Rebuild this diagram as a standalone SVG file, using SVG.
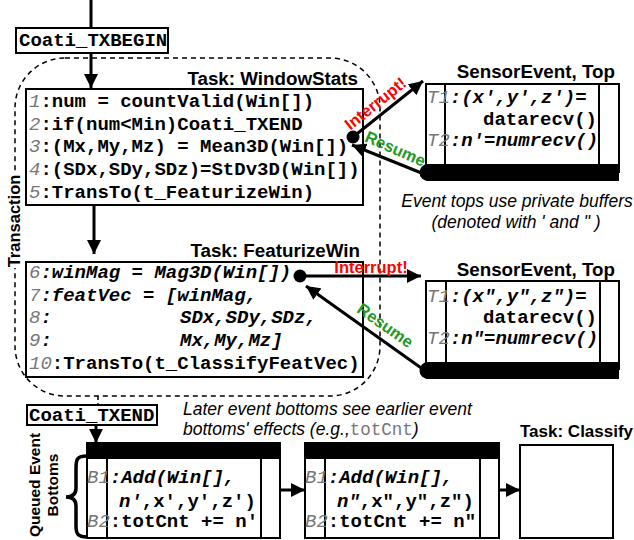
<svg xmlns="http://www.w3.org/2000/svg" width="634" height="540" viewBox="0 0 634 540">
<style>
.box{fill:#fff;stroke:#000;stroke-width:2}
.ln{fill:none;stroke:#000;stroke-width:2}
.code{font-family:"Liberation Mono",monospace;font-size:19px;font-weight:bold;fill:#000}
.it{font-style:italic}
.num{font-weight:normal;font-style:italic;fill:#777}
.title{font-family:"Liberation Sans",Arial,sans-serif;font-size:18.8px;font-weight:bold;fill:#000}
.cap{font-family:"Liberation Sans",Arial,sans-serif;font-size:17.5px;font-style:italic;fill:#000}
.mono{font-family:"Liberation Mono",monospace;font-style:normal;fill:#777}
.arr{fill:none;stroke:#000;stroke-width:3}
.lbl{font-family:"Liberation Sans",Arial,sans-serif;font-size:16.5px;font-weight:bold}
.red{fill:#ff0000}
.grn{fill:#1f9a1f}
</style>
<defs>
<marker id="ah" markerUnits="userSpaceOnUse" markerWidth="16" markerHeight="14" refX="14" refY="7" orient="auto">
<path d="M0,0 L14,7 L0,14 Z" fill="#000"/>
</marker>
</defs>

<!-- transaction region -->
<g id="transaction">
<rect x="15" y="58" width="365" height="338" rx="50" ry="50" fill="none" stroke="#000" stroke-width="1.5" stroke-dasharray="5,4"/>
<rect x="5" y="174" width="19" height="94" fill="#fff"/>
<text class="title" style="font-size:16.5px" text-anchor="middle" transform="translate(20,221) rotate(-90)">Transaction</text>
</g>

<g id="txbegin">
<rect class="box" x="16" y="28" width="152" height="25"/>
<text class="code" x="19" y="46">Coati_TXBEGIN</text>
</g>

<g id="windowstats">
<text class="title" x="358" y="85" text-anchor="end">Task: WindowStats</text>
<rect class="box" x="26" y="89" width="337" height="116"/>
<text class="code" x="29" y="107"><tspan class="num">1</tspan>:num = countValid(Win[])</text>
<text class="code" x="29" y="130"><tspan class="num">2</tspan>:if(num&lt;Min)Coati_TXEND</text>
<text class="code" x="29" y="152"><tspan class="num">3</tspan>:(Mx,My,Mz) = Mean3D(Win[])</text>
<text class="code" x="29" y="175"><tspan class="num">4</tspan>:(SDx,SDy,SDz)=StDv3D(Win[])</text>
<text class="code" x="29" y="198"><tspan class="num">5</tspan>:TransTo(t_FeaturizeWin)</text>
</g>

<g id="featurizewin">
<text class="title" x="360" y="257" text-anchor="end">Task: FeaturizeWin</text>
<rect class="box" x="26" y="262" width="337" height="115"/>
<text class="code" x="29" y="278"><tspan class="num">6</tspan><tspan class="it">:winMag = Mag3D(Win[])</tspan></text>
<text class="code" x="29" y="301"><tspan class="num">7</tspan><tspan class="it">:featVec = [winMag,</tspan></text>
<text class="code" x="29" y="323"><tspan class="num">8</tspan><tspan class="it">:</tspan><tspan class="it" x="180">SDx,SDy,SDz,</tspan></text>
<text class="code" x="29" y="346"><tspan class="num">9</tspan><tspan class="it">:</tspan><tspan class="it" x="180">Mx,My,Mz]</tspan></text>
<text class="code" x="29" y="369"><tspan class="num">10</tspan>:TransTo(t_ClassifyFeatVec)</text>
</g>

<g id="sensor1">
<text class="title" x="615" y="78" text-anchor="end">SensorEvent, Top</text>
<rect class="box" x="426" y="84" width="193" height="88"/>
<line class="ln" x1="445" y1="84" x2="445" y2="165"/>
<line class="ln" x1="599" y1="84" x2="599" y2="165"/>
<text class="code" x="427" y="103"><tspan class="num">T1</tspan><tspan class="it">:(x',y',z')=</tspan></text>
<text class="code" x="483" y="125">datarecv()</text>
<text class="code" x="427" y="146"><tspan class="num">T2</tspan><tspan class="it">:n'=numrecv()</tspan></text>
<rect x="426" y="164" width="193" height="17" fill="#000"/>
<circle cx="428" cy="172.5" r="8.5" fill="#000"/>
</g>

<g id="caption1">
<text class="cap" x="517" y="207" text-anchor="middle">Event tops use private buffers</text>
<text class="cap" x="516" y="228" text-anchor="middle">(denoted with ' and " )</text>
</g>

<g id="sensor2">
<text class="title" x="615" y="276" text-anchor="end">SensorEvent, Top</text>
<rect class="box" x="426" y="281" width="193" height="88"/>
<line class="ln" x1="446" y1="281" x2="446" y2="362"/>
<line class="ln" x1="600" y1="281" x2="600" y2="362"/>
<text class="code" x="427" y="302"><tspan class="num">T1</tspan><tspan class="it">:(x",y",z")=</tspan></text>
<text class="code" x="483" y="323">datarecv()</text>
<text class="code" x="427" y="344"><tspan class="num">T2</tspan><tspan class="it">:n"=numrecv()</tspan></text>
<rect x="426" y="362" width="193" height="17" fill="#000"/>
<circle cx="428" cy="370.5" r="8.5" fill="#000"/>
</g>

<g id="txend">
<rect class="box" x="27" y="405" width="130" height="20"/>
<text class="code" x="29" y="421">Coati_TXEND</text>
</g>

<g id="caption2">
<text class="cap" x="183" y="415">Later event bottoms see earlier event</text>
<text class="cap" x="183" y="435">bottoms' effects (e.g.,<tspan class="mono">totCnt</tspan>)</text>
</g>

<g id="queued">
<text class="title" style="font-size:15.5px" text-anchor="middle" transform="translate(40,485) rotate(-90)">Queued Event</text>
<text class="title" style="font-size:15.5px" text-anchor="middle" transform="translate(58,485) rotate(-90)">Bottoms</text>
<path d="M87,456 C76,456 76,460 76,470 L76,488 C76,494 73,497 66,497 C73,497 76,500 76,506 L76,526 C76,534 78,537 87,537" fill="none" stroke="#000" stroke-width="3.5"/>
</g>

<g id="bottom1">
<rect class="box" x="87" y="443" width="193" height="95"/>
<rect x="87" y="443" width="193" height="16" fill="#000"/>
<line class="ln" x1="107" y1="459" x2="107" y2="538"/>
<line class="ln" x1="261" y1="459" x2="261" y2="538"/>
<text class="code" x="87" y="483"><tspan class="num">B1</tspan><tspan class="it">:Add(Win[],</tspan></text>
<text class="code" x="119" y="507"><tspan class="it">n'</tspan>,x',y',z')</text>
<text class="code" x="87" y="527"><tspan class="num">B2</tspan>:totCnt += n'</text>
</g>

<g id="bottom2">
<rect class="box" x="305" y="443" width="194" height="95"/>
<rect x="305" y="443" width="194" height="16" fill="#000"/>
<line class="ln" x1="325" y1="459" x2="325" y2="538"/>
<line class="ln" x1="480" y1="459" x2="480" y2="538"/>
<text class="code" x="305" y="483"><tspan class="num">B1</tspan><tspan class="it">:Add(Win[],</tspan></text>
<text class="code" x="337" y="507"><tspan class="it">n"</tspan>,x",y",z")</text>
<text class="code" x="305" y="527"><tspan class="num">B2</tspan>:totCnt += n"</text>
</g>

<g id="classify">
<text class="title" style="font-size:17px" x="520" y="437">Task: Classify</text>
<rect class="box" x="520" y="445" width="93" height="93"/>
</g>

<g id="connectors">
<line class="arr" x1="91" y1="0" x2="91" y2="28"/>
<line class="arr" x1="91" y1="53" x2="91" y2="88" marker-end="url(#ah)"/>
<line class="arr" x1="94" y1="205" x2="94" y2="254" marker-end="url(#ah)"/>
<line x1="98" y1="396" x2="98" y2="405" stroke="#000" stroke-width="1.5" stroke-dasharray="4,3"/>
<line class="arr" x1="96" y1="425" x2="96" y2="443" marker-end="url(#ah)"/>
<line class="arr" x1="280" y1="490" x2="305" y2="490" marker-end="url(#ah)"/>
<line class="arr" x1="499" y1="490" x2="520" y2="490" marker-end="url(#ah)"/>
<!-- interrupt / resume 1 -->
<circle cx="353" cy="137" r="6.5" fill="#000"/>
<line class="arr" x1="353" y1="137" x2="423" y2="81" marker-end="url(#ah)"/>
<line class="arr" x1="424" y1="174" x2="352" y2="145" marker-end="url(#ah)"/>
<text class="lbl red" text-anchor="middle" transform="translate(379,108) rotate(-38.6)">Interrupt!</text>
<text class="lbl grn" text-anchor="middle" transform="translate(393,154) rotate(23.8)">Resume</text>
<!-- interrupt / resume 2 -->
<circle cx="300" cy="276" r="6.5" fill="#000"/>
<line class="arr" x1="300" y1="276" x2="421" y2="276" marker-end="url(#ah)"/>
<line class="arr" x1="424" y1="370" x2="306" y2="286" marker-end="url(#ah)"/>
<text class="lbl red" x="371" y="273" text-anchor="middle">Interrupt!</text>
<text class="lbl grn" text-anchor="middle" transform="translate(382,330) rotate(35)">Resume</text>
</g>
</svg>
